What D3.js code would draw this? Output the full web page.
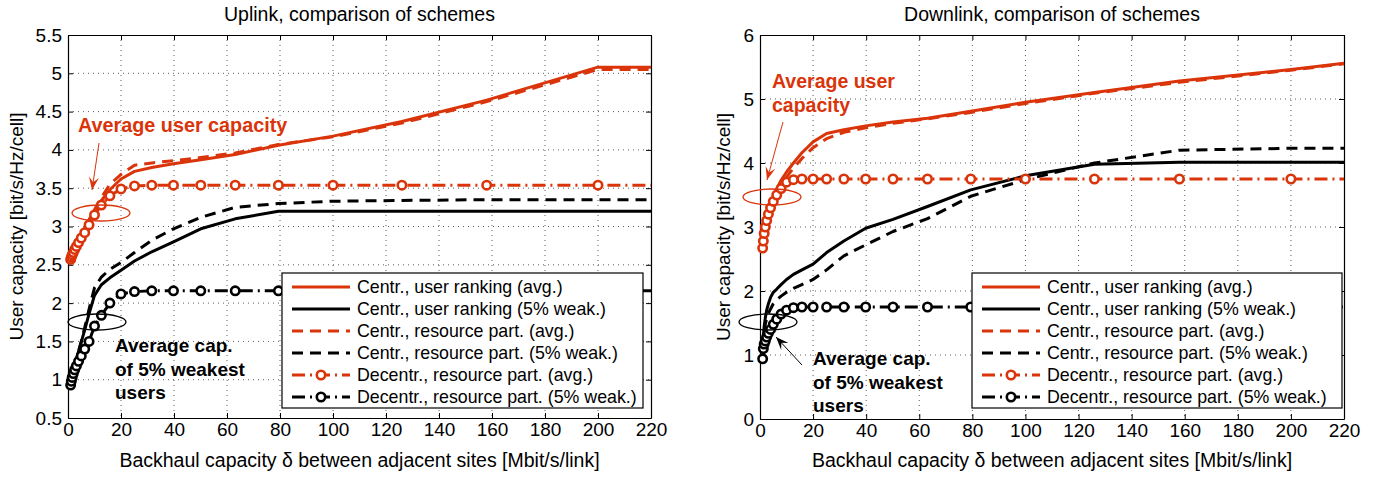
<!DOCTYPE html>
<html><head><meta charset="utf-8">
<script src="https://cdn.jsdelivr.net/npm/d3@7"></script>
<style>
body{margin:0;background:#fff}
text{font-family:"Liberation Sans",Arial,Helvetica,sans-serif;fill:#000}
</style>
</head><body>
<svg id="c" width="1389" height="477"></svg>
<script>
// ---------------- DATA ----------------
const backhaul = [1, 1.26, 1.58, 2, 2.51, 3.16, 3.98, 5.01, 6.31, 7.94, 10, 12.6, 15.8, 20, 25.1, 31.6, 39.8, 50.1, 63.1, 79.4, 100, 126, 158, 200, 220];
const xTicks = [0, 20, 40, 60, 80, 100, 120, 140, 160, 180, 200, 220];
const ulYTicks = [0.5, 1, 1.5, 2, 2.5, 3, 3.5, 4, 4.5, 5, 5.5];
const dlYTicks = [0, 1, 2, 3, 4, 5, 6];

const seriesNames = [
  "Centr., user ranking (avg.)",
  "Centr., user ranking (5% weak.)",
  "Centr., resource part. (avg.)",
  "Centr., resource part. (5% weak.)",
  "Decentr., resource part. (avg.)",
  "Decentr., resource part. (5% weak.)"
];

// Uplink
const ulCentrRankAvg = [2.57, 2.6, 2.64, 2.68, 2.72, 2.77, 2.83, 2.9, 2.98, 3.08, 3.2, 3.34, 3.48, 3.62, 3.72, 3.77, 3.82, 3.87, 3.94, 4.06, 4.18, 4.37, 4.65, 5.08, 5.08];
const ulCentrRank5   = [0.93, 1.0, 1.06, 1.12, 1.19, 1.27, 1.37, 1.49, 1.65, 1.86, 2.1, 2.24, 2.33, 2.43, 2.55, 2.67, 2.8, 2.97, 3.1, 3.2, 3.2, 3.2, 3.2, 3.2, 3.2];
const ulCentrResAvg  = [2.57, 2.6, 2.64, 2.68, 2.72, 2.77, 2.83, 2.9, 2.98, 3.09, 3.22, 3.38, 3.55, 3.68, 3.8, 3.83, 3.86, 3.9, 3.96, 4.07, 4.17, 4.35, 4.63, 5.05, 5.05];
const ulCentrRes5    = [0.93, 1.0, 1.06, 1.12, 1.19, 1.27, 1.37, 1.5, 1.68, 1.92, 2.2, 2.34, 2.44, 2.53, 2.66, 2.82, 2.97, 3.12, 3.25, 3.3, 3.33, 3.34, 3.35, 3.35, 3.35];
const ulDecentrAvg   = [2.57, 2.6, 2.63, 2.66, 2.7, 2.74, 2.79, 2.85, 2.92, 3.02, 3.15, 3.28, 3.4, 3.49, 3.53, 3.54, 3.54, 3.54, 3.54, 3.54, 3.54, 3.54, 3.54, 3.54, 3.54];
const ulDecentr5     = [0.93, 0.98, 1.03, 1.08, 1.13, 1.18, 1.24, 1.31, 1.4, 1.5, 1.7, 1.84, 2.0, 2.12, 2.15, 2.16, 2.16, 2.16, 2.16, 2.16, 2.16, 2.16, 2.16, 2.16, 2.16];

// Downlink
const dlCentrRankAvg = [2.7, 2.82, 2.93, 3.03, 3.13, 3.24, 3.36, 3.48, 3.6, 3.73, 3.86, 4.0, 4.16, 4.33, 4.46, 4.52, 4.58, 4.64, 4.7, 4.81, 4.95, 5.1, 5.28, 5.46, 5.56];
const dlCentrRank5   = [1.12, 1.3, 1.45, 1.58, 1.7, 1.8, 1.9, 1.98, 2.03, 2.1, 2.18, 2.26, 2.33, 2.42, 2.6, 2.78, 2.98, 3.12, 3.32, 3.58, 3.8, 3.98, 4.01, 4.01, 4.01];
const dlCentrResAvg  = [2.7, 2.8, 2.9, 2.99, 3.08, 3.18, 3.29, 3.4, 3.52, 3.65, 3.78, 3.92, 4.07, 4.24, 4.38, 4.48, 4.55, 4.62, 4.69, 4.79, 4.93, 5.09, 5.26, 5.45, 5.55];
const dlCentrRes5    = [1.1, 1.25, 1.38, 1.48, 1.57, 1.65, 1.72, 1.8, 1.86, 1.92, 1.98, 2.04, 2.1, 2.18, 2.33, 2.55, 2.72, 2.93, 3.13, 3.48, 3.74, 4.0, 4.2, 4.23, 4.23];
const dlDecentrAvg   = [2.67, 2.78, 2.9, 3.0, 3.1, 3.2, 3.3, 3.4, 3.5, 3.6, 3.7, 3.74, 3.75, 3.75, 3.75, 3.75, 3.75, 3.75, 3.75, 3.75, 3.75, 3.75, 3.75, 3.75, 3.75];
const dlDecentr5     = [0.94, 1.1, 1.17, 1.22, 1.28, 1.34, 1.4, 1.48, 1.56, 1.64, 1.7, 1.74, 1.75, 1.75, 1.75, 1.75, 1.75, 1.75, 1.75, 1.75, 1.75, 1.75, 1.75, 1.75, 1.75];

// ---------------- STYLE ----------------
const RED = "#da340a", BLK = "#000";
const FONT = '"Liberation Sans",Arial,sans-serif';
const styles = [
  {color: RED, dash: null, marker: false},
  {color: BLK, dash: null, marker: false},
  {color: RED, dash: "11,7", marker: false},
  {color: BLK, dash: "11,7", marker: false},
  {color: RED, dash: "13,5,2,5", marker: true},
  {color: BLK, dash: "13,5,2,5", marker: true}
];

const svg = d3.select("#c");

function panel(cfg) {
  const g = svg.append("g");
  const x = d3.scaleLinear().domain([0, 220]).range([cfg.x0, cfg.x1]);
  const y = d3.scaleLinear().domain(cfg.yDomain).range([cfg.y1, cfg.y0]);

  // grid
  const grid = g.append("g").attr("stroke", "#333").attr("stroke-width", 0.8).attr("stroke-dasharray", "1,4");
  xTicks.slice(1, -1).forEach(t => grid.append("line").attr("x1", x(t)).attr("x2", x(t)).attr("y1", cfg.y0).attr("y2", cfg.y1));
  cfg.yTicks.slice(1, -1).forEach(t => grid.append("line").attr("x1", cfg.x0).attr("x2", cfg.x1).attr("y1", y(t)).attr("y2", y(t)));

  // axes
  const axB = d3.axisBottom(x).tickValues(xTicks).tickSizeInner(-5).tickSizeOuter(0).tickPadding(5);
  const axT = d3.axisTop(x).tickValues(xTicks).tickSizeInner(-5).tickSizeOuter(0).tickFormat("");
  const axL = d3.axisLeft(y).tickValues(cfg.yTicks).tickSizeInner(-5).tickSizeOuter(0).tickPadding(6).tickFormat(d3.format("~g"));
  const axR = d3.axisRight(y).tickValues(cfg.yTicks).tickSizeInner(-5).tickSizeOuter(0).tickFormat("");
  const gb = g.append("g").attr("transform", `translate(0,${cfg.y1})`).call(axB);
  const gt = g.append("g").attr("transform", `translate(0,${cfg.y0})`).call(axT);
  const gl = g.append("g").attr("transform", `translate(${cfg.x0},0)`).call(axL);
  const gr = g.append("g").attr("transform", `translate(${cfg.x1},0)`).call(axR);
  [gb, gt, gl, gr].forEach(a => {
    a.selectAll("path").attr("stroke", "#000").attr("stroke-width", 1.2);
    a.selectAll("line").attr("stroke", "#000").attr("stroke-width", 1);
    a.selectAll("text").style("font-family", FONT).attr("font-size", 19).attr("fill", "#000");
  });

  // lines
  const line = d3.line().x(d => x(d[0])).y(d => y(d[1]));
  cfg.series.forEach((vals, i) => {
    const st = styles[i];
    const pts = backhaul.map((b, k) => [b, vals[k]]);
    g.append("path").attr("d", line(pts)).attr("fill", "none")
      .attr("stroke", st.color).attr("stroke-width", 3)
      .attr("stroke-dasharray", st.dash).attr("stroke-linejoin", "round");
    if (st.marker) {
      g.append("g").selectAll("circle").data(pts.filter(p => p[0] <= 200)).join("circle")
        .attr("cx", d => x(d[0])).attr("cy", d => y(d[1])).attr("r", 4.2)
        .attr("fill", "#fff").attr("stroke", st.color).attr("stroke-width", 2.6);
    }
  });

  // titles / labels
  g.append("text").attr("x", (cfg.x0 + cfg.x1) / 2).attr("y", 21).attr("text-anchor", "middle").attr("font-size", 19.5).text(cfg.title);
  g.append("text").attr("x", (cfg.x0 + cfg.x1) / 2).attr("y", 467).attr("text-anchor", "middle").attr("font-size", 19.5)
    .text("Backhaul capacity δ between adjacent sites [Mbit/s/link]");
  g.append("text").attr("transform", `translate(${cfg.ylabX},${(cfg.y0 + cfg.y1) / 2}) rotate(-90)`).attr("text-anchor", "middle").attr("font-size", 19)
    .text("User capacity [bit/s/Hz/cell]");

  // legend
  const L = cfg.legend;
  const lg = g.append("g");
  lg.append("rect").attr("x", L.x).attr("y", L.y).attr("width", L.w).attr("height", L.h)
    .attr("fill", "#fff").attr("stroke", "#000").attr("stroke-width", 1.2);
  seriesNames.forEach((name, i) => {
    const st = styles[i];
    const cy = L.y + 14 + i * 22;
    lg.append("line").attr("x1", L.x + 10).attr("x2", L.x + 68).attr("y1", cy).attr("y2", cy)
      .attr("stroke", st.color).attr("stroke-width", 3).attr("stroke-dasharray", st.dash);
    if (st.marker) lg.append("circle").attr("cx", L.x + 39).attr("cy", cy).attr("r", 4.2).attr("fill", "#fff").attr("stroke", st.color).attr("stroke-width", 2.6);
    lg.append("text").attr("x", L.x + 75).attr("y", cy + 6).attr("font-size", 17.8).text(name);
  });
  return {g, x, y};
}

function arrow(g, x1, y1, x2, y2, color) {
  g.append("line").attr("x1", x1).attr("y1", y1).attr("x2", x2).attr("y2", y2).attr("stroke", color).attr("stroke-width", 1);
  const a = Math.atan2(y2 - y1, x2 - x1), L = 13, W = 5;
  const bx = x2 - L * Math.cos(a), by = y2 - L * Math.sin(a);
  const ix = x2 - 0.6 * L * Math.cos(a), iy = y2 - 0.6 * L * Math.sin(a);
  const px = -Math.sin(a) * W, py = Math.cos(a) * W;
  g.append("path").attr("d", `M${x2},${y2}L${bx + px},${by + py}L${ix},${iy}L${bx - px},${by - py}Z`).attr("fill", color);
}

function boldText(g, x, y, lines, color, size) {
  lines.forEach((t, i) => g.append("text").attr("x", x).attr("y", y + i * 23.5).attr("font-size", size)
    .attr("font-weight", "bold").attr("fill", color).style("fill", color).text(t));
}

// Uplink panel
const P1 = panel({
  x0: 68, x1: 651, y0: 35, y1: 418, yDomain: [0.5, 5.5], yTicks: ulYTicks, ylabX: 23,
  title: "Uplink, comparison of schemes",
  series: [ulCentrRankAvg, ulCentrRank5, ulCentrResAvg, ulCentrRes5, ulDecentrAvg, ulDecentr5],
  legend: {x: 282, y: 273, w: 361, h: 135}
});
boldText(P1.g, 78, 132, ["Average user capacity"], RED, 19.8);
arrow(P1.g, 99, 143, 92, 190, RED);
P1.g.append("ellipse").attr("cx", 101).attr("cy", 213).attr("rx", 29).attr("ry", 8).attr("fill", "none").attr("stroke", RED).attr("stroke-width", 1.3);
P1.g.append("ellipse").attr("cx", 97).attr("cy", 322).attr("rx", 29).attr("ry", 8).attr("fill", "none").attr("stroke", BLK).attr("stroke-width", 1.3);
boldText(P1.g, 115, 352, ["Average cap.", "of 5% weakest", "users"], BLK, 19);

// Downlink panel
const P2 = panel({
  x0: 760, x1: 1344, y0: 35, y1: 419, yDomain: [0, 6], yTicks: dlYTicks, ylabX: 730,
  title: "Downlink, comparison of schemes",
  series: [dlCentrRankAvg, dlCentrRank5, dlCentrResAvg, dlCentrRes5, dlDecentrAvg, dlDecentr5],
  legend: {x: 972, y: 273, w: 370, h: 135}
});
boldText(P2.g, 772, 88, ["Average user", "capacity"], RED, 19.5);
arrow(P2.g, 783, 122, 767, 180, RED);
P2.g.append("ellipse").attr("cx", 772).attr("cy", 197).attr("rx", 29).attr("ry", 8).attr("fill", "none").attr("stroke", RED).attr("stroke-width", 1.3);
P2.g.append("ellipse").attr("cx", 768).attr("cy", 322).attr("rx", 29).attr("ry", 8).attr("fill", "none").attr("stroke", BLK).attr("stroke-width", 1.3);
arrow(P2.g, 802, 365, 776, 337, BLK);
boldText(P2.g, 813, 365, ["Average cap.", "of 5% weakest", "users"], BLK, 19);
</script>
</body></html>
